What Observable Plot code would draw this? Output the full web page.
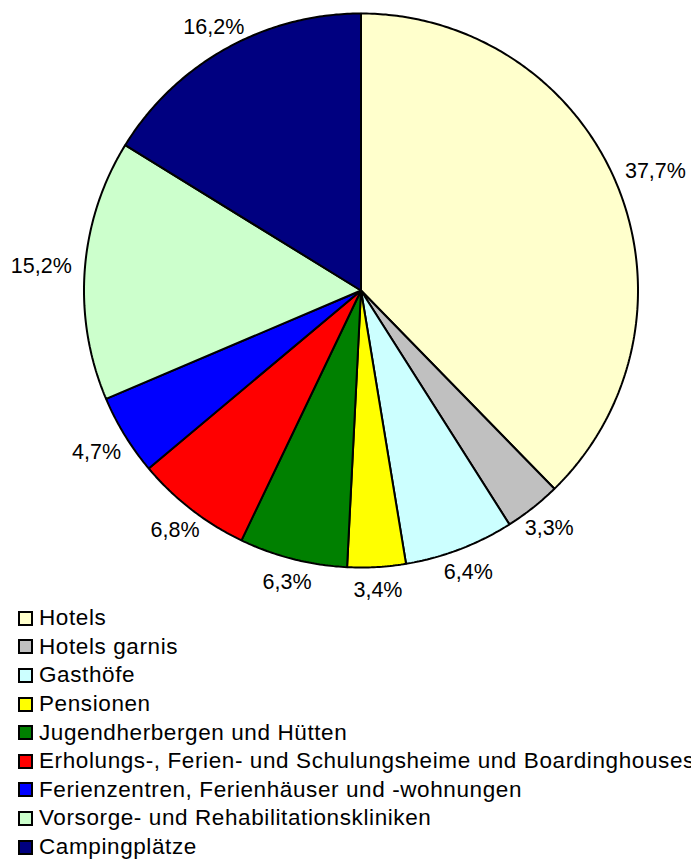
<!DOCTYPE html>
<html><head><meta charset="utf-8">
<script src="https://cdn.jsdelivr.net/npm/d3@7"></script>
<script src="https://cdn.jsdelivr.net/npm/@observablehq/plot@0.6"></script>
<style>
body{margin:0;background:#fff;font-family:"Liberation Sans",Arial,sans-serif;overflow:hidden;width:691px}
#legend{white-space:nowrap;position:relative;margin-top:-8px}
.row{height:28.6px;display:flex;align-items:center;font-size:22.5px;letter-spacing:0.6px;color:#000}
.sw{box-sizing:border-box;width:15px;height:15px;border:2px solid #000;margin-left:18px;margin-right:6px;flex:none}
</style></head><body><div id="chart"></div><div id="legend"></div>
<script>
const categories = ["Hotels","Hotels garnis","Gasthöfe","Pensionen","Jugendherbergen und Hütten","Erholungs-, Ferien- und Schulungsheime und Boardinghouses","Ferienzentren, Ferienhäuser und -wohnungen","Vorsorge- und Rehabilitationskliniken","Campingplätze"];
const shares = [37.7,3.3,6.4,3.4,6.3,6.8,4.7,15.2,16.2];
const shareLabels = ["37,7%","3,3%","6,4%","3,4%","6,3%","6,8%","4,7%","15,2%","16,2%"];
const colors = ["#FFFFCC","#C0C0C0","#CCFFFF","#FFFF00","#008000","#FF0000","#0000FF","#CCFFCC","#000080"];

const cx = 360.5, cy = 290, R = 277;
const labelSize = 21.5, gap = 13, halfH = 10.5;
const charW = ch => ch === "," ? 0.278 : ch === "%" ? 0.889 : 0.556;

const arcs = d3.pie().sort(null).value(d => d)(shares);
const pts = [];
arcs.forEach((a, i) => {
  pts.push({cat: categories[i], x: 0, y: 0});
  const n = Math.max(2, Math.ceil((a.endAngle - a.startAngle) / 0.01));
  for (let k = 0; k <= n; k++) {
    const t = a.startAngle + (a.endAngle - a.startAngle) * k / n;
    pts.push({cat: categories[i], x: Math.sin(t), y: Math.cos(t)});
  }
});
const lab = arcs.map((a, i) => {
  const m = (a.startAngle + a.endAngle) / 2;
  const ux = Math.sin(m), uy = Math.cos(m);
  const halfW = [...shareLabels[i]].reduce((s, c) => s + charW(c), 0) * labelSize / 2;
  const ext = Math.min(Math.abs(ux) > 1e-6 ? halfW / Math.abs(ux) : Infinity, Math.abs(uy) > 1e-6 ? halfH / Math.abs(uy) : Infinity);
  const d = (R + gap + ext) / R;
  return {x: d * ux, y: d * uy, text: shareLabels[i]};
});

const chart = Plot.plot({
  width: 691, height: 612, margin: 0,
  x: {domain: [-1, 1], range: [cx - R, cx + R], axis: null},
  y: {domain: [-1, 1], range: [cy + R, cy - R], axis: null},
  color: {domain: categories, range: colors},
  style: {fontFamily: '"Liberation Sans", Arial, sans-serif', background: "#fff"},
  marks: [
    Plot.line(pts, {x: "x", y: "y", z: "cat", fill: "cat", stroke: "#000", strokeWidth: 2, curve: "linear-closed", strokeLinejoin: "miter"}),
    Plot.text(lab, {x: "x", y: "y", text: "text", fontSize: labelSize, fill: "#000", textAnchor: "middle", lineAnchor: "middle"})
  ]
});
document.getElementById("chart").appendChild(chart);

const leg = document.getElementById("legend");
categories.forEach((c, i) => {
  const r = document.createElement("div"); r.className = "row";
  const s = document.createElement("span"); s.className = "sw"; s.style.background = colors[i];
  const t = document.createElement("span"); t.textContent = c;
  r.appendChild(s); r.appendChild(t); leg.appendChild(r);
});
</script></body></html>
